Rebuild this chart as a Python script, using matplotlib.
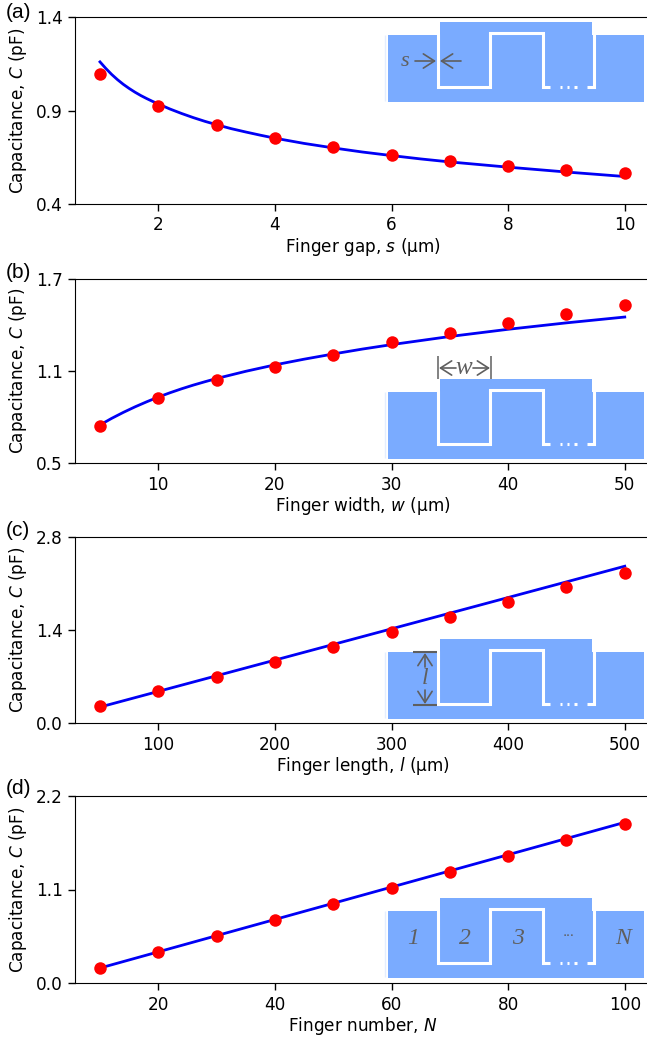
#coding: utf-8
import matplotlib
matplotlib.use('Agg')
import matplotlib.pyplot as plt
from matplotlib.patches import Rectangle
from matplotlib.transforms import Affine2D

W, H = 647, 1045

gap_x = [1, 2, 3, 4, 5, 6, 7, 8, 9, 10]
gap_c = [1.095, 0.924, 0.822, 0.753, 0.705, 0.662, 0.630, 0.603, 0.582, 0.566]
gap_line_x = [1, 1.1, 1.2, 1.3, 1.4, 1.5, 1.6, 1.7, 1.8, 1.9, 2, 2.2, 2.4, 2.6, 2.8, 3, 3.25, 3.5, 3.75, 4, 4.5, 5, 5.5, 6, 6.5, 7, 8, 9, 10]
gap_line_c = [1.16, 1.125, 1.093, 1.065, 1.04, 1.018, 0.998, 0.98, 0.964, 0.949, 0.935, 0.908, 0.884, 0.862, 0.842, 0.824, 0.803, 0.785, 0.768, 0.752, 0.724, 0.70, 0.678, 0.659, 0.641, 0.625, 0.597, 0.571, 0.547]

width_x = [5, 10, 15, 20, 25, 30, 35, 40, 45, 50]
width_c = [0.741, 0.923, 1.04, 1.126, 1.204, 1.289, 1.348, 1.413, 1.472, 1.53]
width_line_x = [5, 6, 7, 8, 9, 10, 11, 12, 13, 14, 15, 17.5, 20, 22.5, 25, 27.5, 30, 35, 40, 45, 50]
width_line_c = [0.748, 0.791, 0.83, 0.866, 0.899, 0.93, 0.958, 0.984, 1.008, 1.03, 1.051, 1.098, 1.14, 1.177, 1.211, 1.243, 1.272, 1.325, 1.372, 1.414, 1.452]

length_x = [50, 100, 150, 200, 250, 300, 350, 400, 450, 500]
length_c = [0.256, 0.48, 0.69, 0.92, 1.14, 1.37, 1.6, 1.82, 2.05, 2.26]
length_line_x = [50, 500]
length_line_c = [0.24, 2.36]

number_x = [10, 20, 30, 40, 50, 60, 70, 80, 90, 100]
number_c = [0.176, 0.365, 0.553, 0.741, 0.929, 1.117, 1.306, 1.494, 1.682, 1.87]
number_line_x = [10, 100]
number_line_c = [0.176, 1.89]

xticks = [[2, 4, 6, 8, 10], [10, 20, 30, 40, 50], [100, 200, 300, 400, 500], [20, 40, 60, 80, 100]]
yticks = [[0.4, 0.9, 1.4], [0.5, 1.1, 1.7], [0.0, 1.4, 2.8], [0.0, 1.1, 2.2]]
xlabels = ['Finger gap, $s$ (µm)', 'Finger width, $w$ (µm)', 'Finger length, $l$ (µm)', 'Finger number, $N$']
tags = ['(a)', '(b)', '(c)', '(d)']

# axes top/bottom in pixels, right side runs past the edge of the picture
tops = [17, 279, 537, 796]
bottoms = [204, 463, 723, 983]
tag_y = [13, 272, 530, 789]
left, right = 75, 651
inset_dy = [0, 357, 617, 876]

blue = '#7aabff'
grey = '#5f5f5f'

plt.rcParams['mathtext.fontset'] = 'dejavusans'
fig = plt.figure(figsize=(W / 100, H / 100), dpi=100)
px = Affine2D().scale(1, -1).translate(0, H)

series = [(gap_x, gap_c, gap_line_x, gap_line_c),
          (width_x, width_c, width_line_x, width_line_c),
          (length_x, length_c, length_line_x, length_line_c),
          (number_x, number_c, number_line_x, number_line_c)]

def rect(x0, y0, x1, y1, color):
    fig.add_artist(Rectangle((x0, y0), x1 - x0, y1 - y0, transform=px, facecolor=color,
                             edgecolor='none', zorder=5))

def line(xs, ys, color='white', lw=2.2, **kw):
    fig.add_artist(plt.Line2D(xs, ys, transform=px, color=color, lw=lw, zorder=6,
                              solid_joinstyle='miter', solid_capstyle='butt', **kw))

def label(x, y, s, size=13):
    fig.text(x, y, s, transform=px, family=['Liberation Serif'], style='italic', color=grey,
             fontsize=size, ha='center', va='center', zorder=7)

def arrow(x0, y0, x1, y1):
    fig.add_artist(matplotlib.patches.FancyArrowPatch((x0, y0), (x1, y1), transform=px, color=grey,
                   arrowstyle='->,head_length=5,head_width=3.2', lw=1.2, shrinkA=0, shrinkB=0,
                   mutation_scale=1.6, zorder=7))

def inset(dy):
    rect(388, 35 + dy, 644, 102 + dy, blue)
    rect(440, 22 + dy, 592, 85 + dy, blue)
    line([385, 385], [35 + dy, 101 + dy], color='#e4eeff', lw=1)
    line([438, 438, 490, 490, 543, 543, 550], [34 + dy, 87 + dy, 87 + dy, 33 + dy, 33 + dy, 87 + dy, 87 + dy])
    line([587, 594, 594], [87 + dy, 87 + dy, 33 + dy])
    for x in [561, 568, 575.5]:
        line([x - 1.2, x + 1.2], [87 + dy, 87 + dy])

for i in range(4):
    pos = [left / W, 1 - bottoms[i] / H, (right - left) / W, (bottoms[i] - tops[i]) / H]
    ax = fig.add_axes(pos)
    px_x, px_y, lx, ly = series[i]
    ax.plot(lx, ly, color='#0000f5', lw=2, zorder=2)
    ax.plot(px_x, px_y, 'o', color='#ff0000', ms=9, mew=0, zorder=3)
    ax.set_xlim(px_x[0] - 0.0476 * (px_x[-1] - px_x[0]), px_x[-1] + 0.05 * (px_x[-1] - px_x[0]))
    ax.set_ylim(yticks[i][0], yticks[i][-1])
    ax.set_xticks(xticks[i])
    ax.set_yticks(yticks[i])
    ax.set_yticklabels(['%.1f' % v for v in yticks[i]])
    ax.tick_params(labelsize=12.2, width=1, length=5, pad=4)
    ax.set_xlabel(xlabels[i], fontsize=12.2, labelpad=1)
    ax.set_ylabel('Capacitance, $C$ (pF)', fontsize=12.2, labelpad=5)
    fig.text(6, tag_y[i], tags[i], transform=px, family='Liberation Sans', fontsize=15,
             ha='left', va='center')
    inset(inset_dy[i])

# annotations on the sketches
label(405, 61, 's', 16)
arrow(415, 61, 436, 61)
arrow(461, 61, 440, 61)

line([438, 438], [356, 379], color=grey, lw=1.1)
line([491, 491], [356, 379], color=grey, lw=1.1)
arrow(456, 368, 439, 368)
arrow(473, 368, 490, 368)
label(464, 368, 'w', 18)

line([413, 437], [652, 652], color=grey, lw=1.5)
line([413, 437], [705, 705], color=grey, lw=1.5)
arrow(425, 667, 425, 653)
arrow(425, 690, 425, 704)
label(425, 679, 'l', 17)

label(413, 938, '1', 17)
label(465, 938, '2', 17)
label(518, 938, '3', 17)
label(569, 936, '···', 11)
label(623, 938, 'N', 17)

fig.savefig('out.png', dpi=100)
